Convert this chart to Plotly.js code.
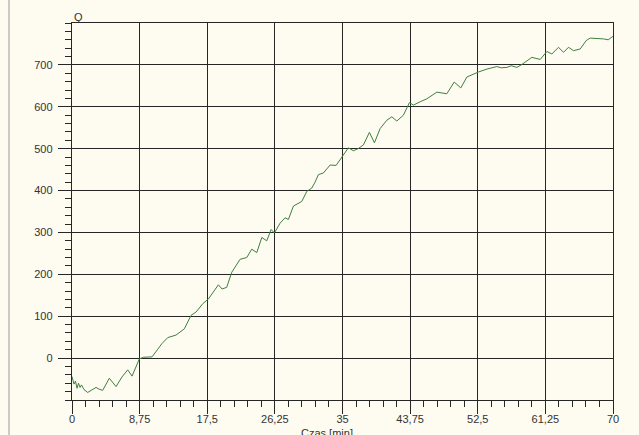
<!DOCTYPE html>
<html>
<head>
<meta charset="utf-8">
<script src="https://cdn.plot.ly/plotly-3.0.1.min.js"></script>
<style>
  html, body { margin: 0; padding: 0; background: #FEFBF1; }
  #chart { width: 639px; height: 435px; }
</style>
</head>
<body>
<div id="chart"></div>
<script>
// Time [min]
const czas = [0, 0.26, 0.45, 0.65, 0.84, 1.04, 1.23, 1.55, 2.03, 2.59, 3.11, 3.49, 3.97, 4.83, 5.70, 6.47, 7.21, 7.77, 8.71,
  9.23, 10.36, 11.09, 11.65, 12.39, 12.94, 13.46, 14.54, 15.40, 16.05, 16.92, 17.64, 18.25, 18.94, 19.42, 20.02, 20.67,
  21.23, 21.75, 22.61, 23.26, 23.91, 24.56, 25.20, 25.76, 26.19, 26.92, 27.57, 28.00, 28.65, 29.12, 29.73, 30.38, 31.03,
  31.45, 31.88, 32.53, 33.40, 34.17, 34.91, 35.76, 36.41, 37.02, 37.71, 38.48, 39.13, 39.87, 40.74, 41.38, 42.03, 42.88,
  43.66, 44.18, 45.05, 45.91, 47.21, 48.50, 49.45, 50.31, 51.09, 51.95, 52.59, 53.68, 54.97, 55.53, 56.27, 56.83, 57.56,
  58.21, 58.77, 59.50, 60.58, 61.45, 62.09, 62.95, 63.60, 64.24, 64.89, 65.76, 66.53, 67.05, 68.78, 69.38, 69.99];
// Q values
const q = [-44, -62, -55, -72, -60, -70, -64, -75, -82, -75, -70, -74, -77, -48, -68, -45, -28, -43, -2,
  2, 3, 21, 35, 49, 52, 55, 70, 102, 110, 130, 141, 158, 175, 165, 169, 205,
  222, 236, 240, 260, 252, 288, 280, 307, 299, 322, 335, 331, 363, 368, 374, 398, 406,
  420, 438, 442, 461, 460, 481, 502, 495, 500, 509, 539, 514, 548, 568, 576, 566, 580,
  610, 604, 612, 619, 635, 631, 659, 645, 671, 679, 683, 690, 696, 693, 694, 698, 694,
  701, 708, 718, 713, 732, 726, 742, 730, 742, 734, 738, 758, 764, 762, 760, 768];

const xTickVals = [0, 8.75, 17.5, 26.25, 35, 43.75, 52.5, 61.25, 70];
const xTickText = ["0", "8,75", "17,5", "26,25", "35", "43,75", "52,5", "61,25", "70"];
const yTickVals = [0, 100, 200, 300, 400, 500, 600, 700];
const yTickText = ["0", "100", "200", "300", "400", "500", "600", "700"];

const bg = "#FEFBF1";
const gridCol = "#262626";
const tickFont = { family: "Liberation Sans, Arial, sans-serif", size: 11, color: "#333333" };

const trace = {
  x: czas, y: q, type: "scatter", mode: "lines",
  line: { color: "#3f7f3f", width: 1 },
  hoverinfo: "skip"
};

const layout = {
  width: 639, height: 435,
  paper_bgcolor: bg, plot_bgcolor: bg,
  margin: { l: 72, r: 26, t: 23, b: 35 },
  showlegend: false,
  xaxis: {
    range: [0, 70], tickvals: xTickVals, ticktext: xTickText,
    showgrid: true, gridcolor: gridCol, gridwidth: 1.2,
    zeroline: false, showline: true, linecolor: gridCol, linewidth: 1.2, mirror: true,
    ticks: "outside", ticklen: 13, tickcolor: gridCol, tickwidth: 1,
    ticklabelstandoff: -4,
    tickfont: tickFont,
    minor: { dtick: 1.75, tick0: 0, ticks: "outside", ticklen: 6, tickcolor: gridCol, tickwidth: 1, showgrid: false },
    fixedrange: true
  },
  yaxis: {
    range: [-100, 800], tickvals: yTickVals, ticktext: yTickText,
    showgrid: true, gridcolor: gridCol, gridwidth: 1.2,
    zeroline: false, showline: true, linecolor: gridCol, linewidth: 1.2, mirror: true,
    ticks: "outside", ticklen: 13, tickcolor: gridCol, tickwidth: 1,
    ticklabelstandoff: 3,
    tickfont: tickFont,
    minor: { dtick: 20, tick0: 0, ticks: "outside", ticklen: 6, tickcolor: gridCol, tickwidth: 1, showgrid: false },
    fixedrange: true
  },
  annotations: [
    { text: "Q", xref: "paper", yref: "paper", x: 0, y: 1, xanchor: "left", yanchor: "bottom",
      xshift: 0, yshift: -2, showarrow: false, font: tickFont },
    { text: "Czas [min]", xref: "paper", yref: "paper", x: (327 - 72) / 541, y: 0, xanchor: "center", yanchor: "top",
      yshift: -25, showarrow: false, font: tickFont }
  ],
  shapes: [
    { type: "line", xref: "paper", yref: "paper", x0: (9 - 72) / 541, x1: (9 - 72) / 541, y0: -0.1, y1: 1.07,
      line: { color: "#9a9a9a", width: 1 } }
  ]
};

Plotly.newPlot("chart", [trace], layout, { staticPlot: true, displayModeBar: false });
</script>
</body>
</html>
